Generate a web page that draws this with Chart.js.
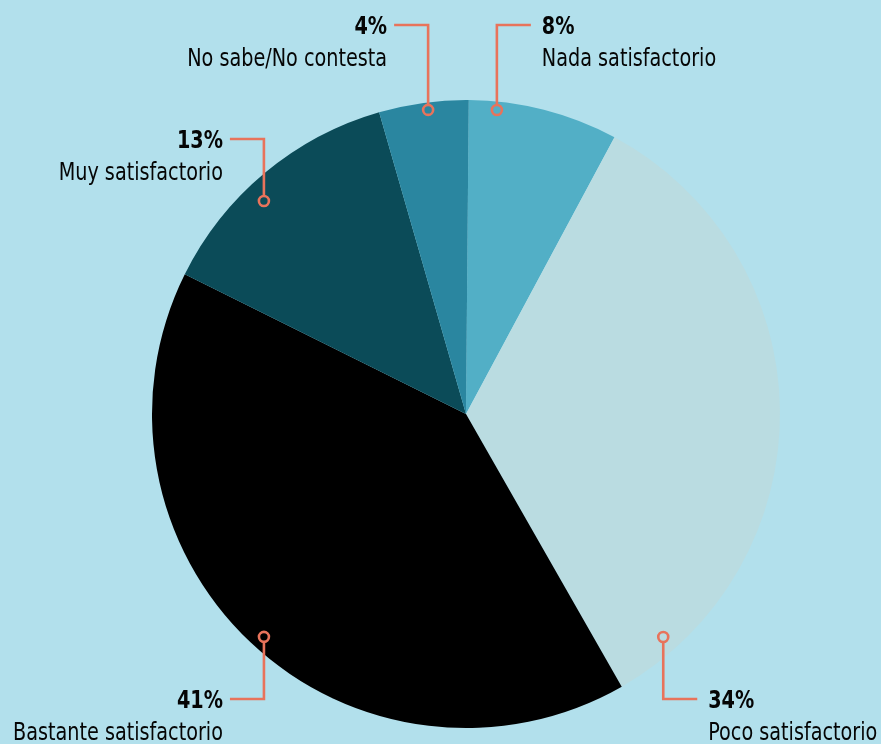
<!DOCTYPE html>
<html lang="es">
<head>
<meta charset="utf-8">
<title>Satisfacción</title>
<script src="https://cdn.jsdelivr.net/npm/chart.js@4.4.1/dist/chart.umd.min.js"></script>
<style>
  html, body { margin: 0; padding: 0; background: #b2e0ec; }
  #wrap { position: relative; width: 881px; height: 744px; }
</style>
</head>
<body>
<div id="wrap"><canvas id="pieChart" width="881" height="744"></canvas></div>
<script>
/* ─────────────────────────────────────────
   DATA
───────────────────────────────────────── */
const categories = ['Nada satisfactorio', 'Poco satisfactorio', 'Bastante satisfactorio', 'Muy satisfactorio', 'No sabe/No contesta'];
// slice sizes (labels show them rounded)
const percents   = [7.7, 33.9, 40.6, 13.2, 4.6];
const pctLabels  = ['8%', '34%', '41%', '13%', '4%'];

/* ─────────────────────────────────────────
   STYLE
───────────────────────────────────────── */
const sliceColors = ['#52afc6', '#badce1', '#000000', '#0b4b58', '#2a86a0'];
const lineColor   = '#e8735b';
const fontName    = "'Liberation Sans Narrow', 'DejaVu Sans Condensed', sans-serif";
const textSqueeze = 0.89;

// callout layout: anchor angle (deg from top, clockwise), radius fraction, elbow y, side
const callouts = [
  { angle: 5.8,   rf: 0.973, elbowY: 25,  side: 'right' },
  { angle: 138.5, rf: 0.948, elbowY: 699, side: 'right' },
  { angle: 222.2, rf: 0.958, elbowY: 699, side: 'left'  },
  { angle: 316.5, rf: 0.935, elbowY: 139, side: 'left'  },
  { angle: 352.9, rf: 0.976, elbowY: 25,  side: 'left'  }
];

function squeezedText(ctx, text, x, y) {
  ctx.save();
  ctx.translate(x, y);
  ctx.scale(textSqueeze, 1);
  ctx.fillText(text, 0, 0);
  ctx.restore();
}

/* ─────────────────────────────────────────
   PLUGIN: leader lines + labels
───────────────────────────────────────── */
const calloutPlugin = {
  id: 'callouts',
  afterDatasetsDraw(chart) {
    const ctx = chart.ctx;
    const arc = chart.getDatasetMeta(0).data[0];
    const cx = arc.x, cy = arc.y, R = arc.outerRadius;

    callouts.forEach((c, i) => {
      const a = c.angle * Math.PI / 180;
      const px = cx + Math.sin(a) * R * c.rf;
      const py = cy - Math.cos(a) * R * c.rf;
      const dir = c.side === 'right' ? 1 : -1;
      const ex = px + dir * 34;

      ctx.save();
      ctx.strokeStyle = lineColor;
      ctx.lineWidth = 2.6;
      ctx.beginPath();
      const startY = c.elbowY < py ? py - 5 : py + 5;
      ctx.moveTo(px, startY);
      ctx.lineTo(px, c.elbowY);
      ctx.lineTo(ex, c.elbowY);
      ctx.stroke();

      ctx.beginPath();
      ctx.arc(px, py, 5, 0, Math.PI * 2);
      ctx.stroke();

      const tx = ex + (c.side === 'right' ? 11 : -7);
      ctx.fillStyle = '#050505';
      ctx.textAlign = c.side === 'right' ? 'left' : 'right';
      ctx.textBaseline = 'alphabetic';
      ctx.font = 'bold 24px ' + fontName;
      squeezedText(ctx, pctLabels[i], tx, c.elbowY + 9);
      ctx.font = '24px ' + fontName;
      squeezedText(ctx, categories[i], tx, c.elbowY + 41);
      ctx.restore();
    });
  }
};

/* ─────────────────────────────────────────
   CHART.JS – PIE
───────────────────────────────────────── */
const pieCtx = document.getElementById('pieChart').getContext('2d');

new Chart(pieCtx, {
  type: 'pie',
  data: {
    labels: categories,
    datasets: [{
      data: percents,
      backgroundColor: sliceColors,
      borderWidth: 0
    }]
  },
  options: {
    responsive: false,
    animation: false,
    rotation: 0.5,
    layout: { padding: { left: 152, right: 101, top: 100, bottom: 16 } },
    plugins: {
      legend: { display: false },
      tooltip: { enabled: false }
    }
  },
  plugins: [calloutPlugin]
});
</script>
</body>
</html>
